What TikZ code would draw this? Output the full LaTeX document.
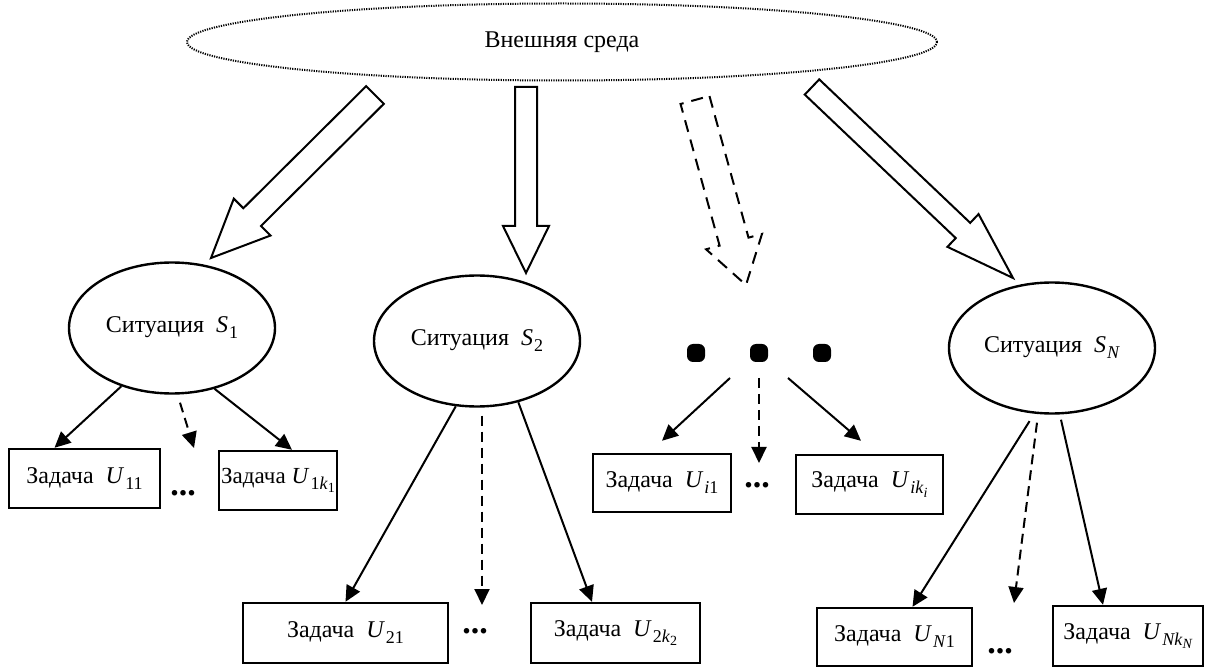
\documentclass[tikz,border=0pt]{standalone}
\usepackage{fontspec}
\setmainfont{Liberation Serif}
\usetikzlibrary{arrows.meta, calc, shapes.geometric}

%% italic symbol with subscript, and second level subscript
\newcommand{\symb}[2]{\textit{#1}\kern0.5pt\raisebox{-0.55ex}{\fontsize{9}{9}\selectfont #2}}
\newcommand{\ssub}[1]{\raisebox{-0.45ex}{\fontsize{7}{7}\selectfont #1}}

%% hollow block arrow: [style]{from}{to}{shaft half}{head half}{head length}
\newcommand{\fatarrow}[6][]{%
  \coordinate (fab) at ($(#3)!#6!(#2)$);
  \draw[fatarr,#1] ($(#2)!#4!90:(#3)$) -- ($(fab)!#4!90:(#3)$) -- ($(fab)!#5!90:(#3)$)
    -- (#3) -- ($(fab)!#5!-90:(#3)$) -- ($(fab)!#4!-90:(#3)$) -- ($(#2)!#4!-90:(#3)$) -- cycle;
}

\tikzset{
  envnode/.style={ellipse, draw, line width=1pt, dash pattern=on 0.6pt off 0.6pt,
                  minimum width=375pt, minimum height=38.5pt, inner sep=0pt},
  sit/.style={ellipse, draw, line width=1.2pt, minimum width=103pt,
              minimum height=65.5pt, inner sep=0pt},
  task/.style={rectangle, draw, line width=1.2pt, minimum height=29.5pt, inner sep=1pt},
  %% connectors
  link/.style={-{Triangle[length=8pt,width=7.5pt]}, line width=1pt},
  linkD/.style={link, dash pattern=on 5pt off 3pt},
  fatarr/.style={line width=1pt, fill=white, line join=miter},
  fatarrD/.style={fatarr, dash pattern=on 6pt off 4pt},
  %% dots
  bigdot/.style={rectangle, rounded corners=3pt, fill, minimum size=9pt, inner sep=0pt},
  gapdots/.style={font=\fontsize{17}{17}\selectfont\bfseries, inner sep=0pt},
}

\begin{document}
\begin{tikzpicture}[x=0.5pt, y=-0.5pt, font=\fontsize{12}{14}\selectfont]
\useasboundingbox (0,0) rectangle (1206,668);

%% ============================================================
%%  ENVIRONMENT AND SITUATIONS
%% ============================================================
\node[envnode] (env) at (562,42) {Внешняя среда};

\node[sit] (s1) at (172,328)  {Ситуация\enspace\symb{S}{1}};
\node[sit] (s2) at (477,341)  {Ситуация\enspace\symb{S}{2}};
\node[sit] (sN) at (1052,348) {Ситуация\enspace\symb{S}{\textit{N}}};

%% situation i (not drawn)
\node[bigdot] (d1) at (696,353) {};
\node[bigdot] (d2) at (759,353) {};
\node[bigdot] (d3) at (822,353) {};

%% ============================================================
%%  BLOCK ARROWS from the environment
%% ============================================================
\coordinate (f1s) at (375,95);  \coordinate (f1e) at (211,258);
\coordinate (f2s) at (526,87);  \coordinate (f2e) at (526,273);
\coordinate (f3s) at (695,100); \coordinate (f3e) at (746,285);
\coordinate (f4s) at (812,87);  \coordinate (f4e) at (1013,278);

\fatarrow{f1s}{f1e}{6.25pt}{13pt}{29pt}
\fatarrow{f2s}{f2e}{5.5pt}{11.5pt}{23.5pt}
\fatarrow[fatarrD]{f3s}{f3e}{7.5pt}{14.5pt}{22.5pt}
\fatarrow{f4s}{f4e}{5.25pt}{11.3pt}{34.5pt}

%% ============================================================
%%  TASKS
%% ============================================================
\node[task, minimum width=75.5pt]  (u11) at (84.5,478.5) {Задача\enspace\symb{U}{11}};
\node[task, minimum width=59pt, inner sep=0pt, font=\fontsize{11.5}{13}\selectfont]
  (u1k) at (278,480.5) {Задача\kern3pt\symb{U}{1\textit{k}\ssub{1}}};
\node[task, minimum width=102.5pt, minimum height=30pt] (u21) at (345.5,633) {Задача\enspace\symb{U}{21}};
\node[task, minimum width=84.5pt,  minimum height=30pt] (u2k) at (615.5,633) {Задача\enspace\symb{U}{2\textit{k}\ssub{2}}};
\node[task, minimum width=69pt,  minimum height=29pt] (ui1) at (662,483)   {Задача\enspace\symb{U}{\textit{i}1}};
\node[task, minimum width=73.5pt] (uik) at (869.5,484.5) {Задача\enspace\symb{U}{\textit{ik}\ssub{\textit{i}}}};
\node[task, minimum width=77.5pt, minimum height=29pt] (uN1) at (894.5,637) {Задача\enspace\symb{U}{\textit{N}1}};
\node[task, minimum width=75pt,   minimum height=30pt] (uNk) at (1128,636)  {Задача\enspace\symb{U}{\textit{Nk}\ssub{\textit{N}}}};

%% ----- omitted tasks -----
\node[gapdots] (g1) at (183,493)  {...};
\node[gapdots] (g2) at (475,631)  {...};
\node[gapdots] (g3) at (757,485)  {...};
\node[gapdots] (g4) at (1000,651) {...};

%% free ends of the dashed links
\coordinate (e1) at (194,448);
\coordinate (e2) at (482,605);
\coordinate (e3) at (759,463);
\coordinate (e4) at (1014,603);

%% ============================================================
%%  LINKS situation -> tasks
%% ============================================================
\draw[link]  (s1.-131) -- ([xshift=-15pt]u11.north);
\draw[linkD] ([xshift=4pt,yshift=-4pt]s1.south) -- (e1);
\draw[link]  (s1.-55) -- ([xshift=7pt]u1k.north);

\draw[link]  (s2.-108) -- (u21.north);
\draw[linkD] ([xshift=2.5pt,yshift=-4pt]s2.south) -- (e2);
\draw[link]  (s2.-56) -- ([xshift=-11.75pt]u2k.north);

\draw[link]  ([shift={(-29,25)}]d2.center) -- ([yshift=6pt]ui1.north);
\draw[linkD] ([yshift=-12.5pt]d2.center) -- (e3);
\draw[link]  ([shift={(29,25)}]d2.center) -- ([xshift=-4.25pt,yshift=6.5pt]uik.north);

\draw[link]  ([yshift=-4pt]sN.-109) -- ([xshift=9pt]uN1.north);
\draw[linkD] ([xshift=-7.5pt,yshift=-4pt]sN.south) -- (e4);
\draw[link]  ([xshift=4.5pt,yshift=-2.5pt]sN.south) -- ([xshift=-12.5pt]uNk.north);

\end{tikzpicture}
\end{document}
